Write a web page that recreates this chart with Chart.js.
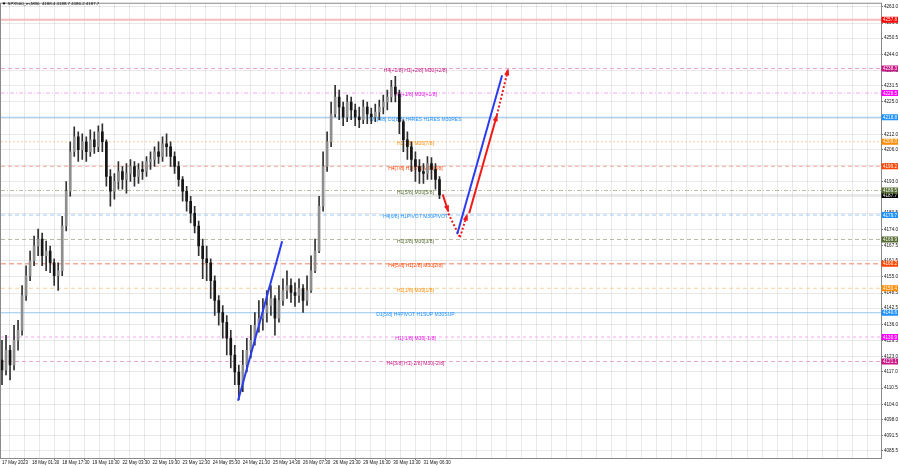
<!DOCTYPE html>
<html><head><meta charset="utf-8">
<script src="https://cdn.jsdelivr.net/npm/chart.js@4"></script>
<style>html,body{margin:0;padding:0;background:#fff;overflow:hidden}</style>
</head><body>
<canvas id="c" width="900" height="468" style="display:block;width:900px;height:468px"></canvas>
<script>
// ---------- data ----------
const chartTitle = 'SPX500_m,M30  4188.4 4188.7 4186.2 4187.7';
const timeLabels = ['17 May 2023','18 May 01:30','18 May 17:30','19 May 10:30','22 May 03:30','22 May 19:30','23 May 12:30','24 May 05:30','24 May 21:30','25 May 14:30','26 May 07:30','26 May 23:30','29 May 16:30','30 May 13:30','31 May 06:30'];
const priceTicks = [4263.0,4256.5,4250.5,4244.0,4237.5,4231.5,4225.0,4218.5,4212.0,4206.0,4199.5,4193.0,4187.0,4180.5,4174.0,4167.5,4161.5,4155.0,4148.5,4142.5,4136.0,4129.5,4123.0,4117.0,4110.5,4104.0,4098.0,4091.5,4085.5];

const opens = [4121.7,4117.7,4125.6,4119.7,4129.6,4133.6,4147.5,4155.4,4161.4,4167.3,
4170.1,4163.4,4165.3,4160.6,4155.4,4157.4,4175.3,4189.2,4205.0,4211.0,
4205.8,4209.0,4205.0,4209.8,4207.0,4213.0,4209.0,4195.1,4189.2,4193.1,
4197.1,4193.9,4196.3,4199.1,4195.1,4197.9,4197.1,4201.1,4201.9,4205.0,
4203.1,4208.2,4207.0,4203.1,4199.1,4193.9,4189.2,4185.2,4180.4,4175.3,
4167.3,4162.2,4160.6,4153.4,4145.5,4140.7,4136.8,4130.4,4123.7,4116.9,
4111.8,4119.7,4125.6,4129.6,4135.6,4138.4,4140.7,4143.5,4146.3,4138.4,
4145.5,4149.5,4151.5,4148.7,4147.5,4150.3,4145.5,4149.5,4157.4,4165.3,
4183.2,4199.1,4209.0,4220.1,4226.9,4222.9,4218.9,4224.9,4221.7,4218.9,
4217.8,4222.9,4220.1,4218.9,4220.9,4222.9,4224.9,4226.9,4230.9,4228.1,
4217.0,4209.8,4207.0,4201.9,4199.1,4197.1,4196.3,4200.3,4197.9,4193.9];
const highs = [4129.6,4131.6,4127.6,4135.6,4137.6,4151.5,4159.4,4165.3,4171.3,4174.1,
4172.5,4169.3,4167.3,4162.2,4160.6,4179.2,4193.1,4209.0,4215.0,4213.0,
4212.2,4211.0,4213.8,4213.0,4215.4,4216.2,4209.8,4197.9,4196.3,4201.1,
4199.1,4200.3,4201.9,4201.1,4200.3,4201.1,4203.1,4205.0,4207.0,4209.0,
4211.0,4212.2,4209.0,4205.0,4201.1,4195.1,4191.2,4187.2,4183.2,4177.3,
4170.1,4167.3,4162.2,4155.4,4147.5,4143.5,4139.5,4133.6,4127.6,4119.7,
4125.6,4130.4,4135.6,4140.7,4145.5,4146.3,4149.5,4151.5,4147.5,4151.5,
4154.2,4157.4,4154.2,4152.6,4154.2,4151.9,4155.4,4163.4,4170.1,4187.2,
4205.0,4213.0,4224.9,4231.6,4229.7,4224.9,4227.7,4226.9,4224.1,4222.9,
4225.7,4224.9,4222.5,4224.1,4225.7,4227.7,4229.7,4233.6,4235.2,4229.7,
4217.8,4213.0,4209.0,4205.0,4201.9,4200.3,4203.1,4202.7,4200.3,4195.1];
const lows = [4111.8,4115.7,4113.7,4117.7,4125.6,4131.6,4145.5,4153.4,4159.4,4163.4,
4159.4,4157.4,4156.6,4151.5,4149.5,4155.4,4173.3,4187.2,4203.1,4201.1,
4201.9,4201.1,4203.1,4204.3,4205.0,4205.0,4191.2,4183.2,4186.0,4190.0,
4190.0,4188.4,4193.1,4191.2,4192.3,4193.9,4195.1,4197.9,4199.1,4200.3,
4201.1,4203.1,4199.1,4196.3,4191.2,4185.2,4181.2,4176.5,4172.5,4163.4,
4154.2,4153.4,4146.3,4139.5,4135.6,4130.4,4123.7,4118.5,4111.8,4105.8,
4109.0,4116.9,4122.5,4127.6,4132.8,4133.6,4136.8,4139.5,4131.6,4136.8,
4143.5,4146.3,4144.7,4143.1,4144.7,4140.7,4143.5,4148.7,4156.6,4164.6,
4181.2,4197.1,4207.0,4218.9,4217.8,4215.4,4217.0,4217.8,4215.4,4214.6,
4216.2,4216.2,4216.2,4217.0,4217.8,4220.1,4221.7,4224.9,4224.9,4212.2,
4205.0,4201.9,4197.1,4193.1,4192.3,4192.3,4193.9,4193.9,4190.0,4186.2];
const closes = [4117.7,4125.6,4119.7,4129.6,4133.6,4147.5,4155.4,4161.4,4167.3,4170.1,
4163.4,4165.3,4160.6,4155.4,4157.4,4175.3,4189.2,4205.0,4211.0,4205.8,
4209.0,4205.0,4209.8,4207.0,4213.0,4209.0,4195.1,4189.2,4193.1,4197.1,
4193.9,4196.3,4199.1,4195.1,4197.9,4197.1,4201.1,4201.9,4205.0,4203.1,
4208.2,4207.0,4203.1,4199.1,4193.9,4189.2,4185.2,4180.4,4175.3,4167.3,
4162.2,4160.6,4153.4,4145.5,4140.7,4136.8,4130.4,4123.7,4116.9,4111.8,
4119.7,4125.6,4129.6,4135.6,4138.4,4140.7,4143.5,4146.3,4138.4,4145.5,
4149.5,4151.5,4148.7,4147.5,4150.3,4145.5,4149.5,4157.4,4165.3,4183.2,
4199.1,4209.0,4220.1,4226.9,4222.9,4218.9,4224.9,4221.7,4218.9,4217.8,
4222.9,4220.1,4218.9,4220.9,4222.9,4224.9,4226.9,4230.9,4228.1,4217.0,
4209.8,4207.0,4201.9,4199.1,4197.1,4196.3,4200.3,4197.9,4193.9,4187.7];

const levelValues = [4257.8,4238.3,4228.5,4218.8,4209.0,4199.2,4189.5,4179.7,4169.9,4160.2,4150.4,4140.6,4130.9,4121.1];
const levelTexts = ['','H4[+1/8] H1[+2/8] M30[+2/8]','H1[+1/8] M30[+1/8]','W1[8/8] D1[8/8] H4RES H1RES M30RES','H1[7/8] M30[7/8]','H4[7/8] H1[6/8] M30[6/8]','H1[5/8] M30[5/8]','H4[6/8] H1PIVOT M30PIVOT','H1[3/8] M30[3/8]','H4[5/8] H1[2/8] M30[2/8]','H1[1/8] M30[1/8]','D1[5/8] H4PIVOT H1SUP M30SUP','H1[-1/8] M30[-1/8]','H4[3/8] H1[-2/8] M30[-2/8]'];
const bidPrice = 4187.7;

const blueTrendA = [{x:58.8,y:4105.4},{x:69.8,y:4169.2}];
const blueTrendB = [{x:113.4,y:4172.0},{x:124.6,y:4235.6}];
const redSolidA = [{x:109.8,y:4187.9},{x:111.2,y:4181.1}];
const redDotA = [{x:111.2,y:4180.3},{x:114.1,y:4170.8}];
const redDotB = [{x:114.1,y:4170.8},{x:115.9,y:4179.9}];
const redSolidB = [{x:116.4,y:4180.4},{x:123.3,y:4219.6}];
const redDotC = [{x:123.3,y:4219.6},{x:126.1,y:4238.0}];

// ---------- styles ----------
const FONT = 'Liberation Sans, Arial, sans-serif';
const levelStyles = [
  {line:'#f6bcbc', dash:[], w:2, text:'#ff0000', box:'#ff0000'},
  {line:'#e8a6d2', dash:[4,3], w:1, text:'#c71585', box:'#c71585'},
  {line:'#f3a8f3', dash:[4,2,1,2], w:1, text:'#e810e8', box:'#ff00ff'},
  {line:'#93c6f3', dash:[], w:1, text:'#1e90ff', box:'#1e90ff'},
  {line:'#f7cf9c', dash:[2,2], w:1, text:'#ff8c00', box:'#ff8c00'},
  {line:'#f4ab95', dash:[4,3], w:1, text:'#ff4500', box:'#ff4500'},
  {line:'#b7bca2', dash:[4,2,1,2], w:1, text:'#556b2f', box:'#556b2f'},
  {line:'#9ccaf3', dash:[4,3], w:1, text:'#1e90ff', box:'#1e90ff'},
  {line:'#b9bca4', dash:[4,3], w:1, text:'#556b2f', box:'#556b2f'},
  {line:'#f4ab95', dash:[5,3], w:1.5, text:'#ff4500', box:'#ff4500'},
  {line:'#f7cf9c', dash:[4,3], w:1, text:'#ff8c00', box:'#ff8c00'},
  {line:'#93c6f3', dash:[], w:1, text:'#1e90ff', box:'#1e90ff'},
  {line:'#f3a8f3', dash:[3,3], w:1, text:'#e810e8', box:'#ff00ff'},
  {line:'#e8a6d2', dash:[4,3], w:1, text:'#c71585', box:'#c71585'}
];
const X_MIN = -0.25, X_MAX = 219.0, Y_MIN = 4082.5, Y_MAX = 4264.2;
const LEVEL_TEXT_X = 103;

// ---------- build ----------
const idx = closes.map((_, i) => i);
const wickData = idx.map(i => ({x:i, y:[lows[i], highs[i]]}));
const bodyData = idx.map(i => ({x:i, y:[opens[i], closes[i]]}));
const bodyFill = idx.map(i => closes[i] >= opens[i] ? '#8e8e8e' : '#151515');

const datasets = [];
levelValues.forEach((v, k) => {
  const s = levelStyles[k];
  datasets.push({type:'line', data:[{x:X_MIN,y:v},{x:X_MAX,y:v}], borderColor:s.line, borderWidth:s.w, borderDash:s.dash, pointRadius:0, order:10});
});
datasets.push({type:'line', data:[{x:X_MIN,y:bidPrice},{x:X_MAX,y:bidPrice}], borderColor:'#d2d2d2', borderWidth:1, pointRadius:0, order:10});
datasets.push({type:'bar', data:wickData, backgroundColor:'#303030', barThickness:1, grouped:false, order:3});
datasets.push({type:'bar', data:bodyData, backgroundColor:bodyFill, borderWidth:0, barThickness:2, grouped:false, order:2});
const trend = (data, color, dotted, arrow) => ({type:'line', data, borderColor:color, borderWidth:2, borderDash: dotted ? [2,2] : [], pointRadius:0, order:0, arrow});
datasets.push(trend(blueTrendA, '#2b3cf0', false, false));
datasets.push(trend(blueTrendB, '#2b3cf0', false, false));
datasets.push(trend(redSolidA, '#f01818', false, true));
datasets.push(trend(redDotA, '#f01818', true, false));
datasets.push(trend(redDotB, '#f01818', true, true));
datasets.push(trend(redSolidB, '#f01818', false, true));
datasets.push(trend(redDotC, '#f01818', true, true));

const gridX = [];
for (let m = 0; m * 3.75 <= X_MAX; m++) gridX.push(m * 3.75);

const levelTextPlugin = {
  id:'levelText',
  afterDatasetDraw(chart, args) {
    if (args.index !== 0) return;
    const ctx = chart.ctx, xs = chart.scales.x, ys = chart.scales.y;
    ctx.save();
    ctx.font = '5px ' + FONT;
    ctx.textAlign = 'center';
    ctx.textBaseline = 'middle';
    levelValues.forEach((v, k) => {
      if (!levelTexts[k]) return;
      ctx.fillStyle = levelStyles[k].text;
      ctx.fillText(levelTexts[k], xs.getPixelForValue(LEVEL_TEXT_X), ys.getPixelForValue(v) + 2);
    });
    ctx.restore();
  }
};
const arrowPlugin = {
  id:'arrows',
  afterDatasetsDraw(chart) {
    const ctx = chart.ctx;
    chart.data.datasets.forEach((ds, i) => {
      if (!ds.arrow) return;
      const pts = chart.getDatasetMeta(i).data;
      const a = pts[0], b = pts[pts.length - 1];
      const ang = Math.atan2(b.y - a.y, b.x - a.x);
      const L = 6, W = 2.6;
      ctx.save();
      ctx.translate(b.x, b.y); ctx.rotate(ang);
      ctx.beginPath(); ctx.moveTo(1, 0); ctx.lineTo(-L, -W); ctx.lineTo(-L, W); ctx.closePath();
      ctx.fillStyle = ds.borderColor; ctx.fill();
      ctx.restore();
    });
  }
};
const overlayPlugin = {
  id:'overlay',
  afterDraw(chart) {
    const ctx = chart.ctx, ca = chart.chartArea, ys = chart.scales.y;
    ctx.save();
    ctx.strokeStyle = '#8a8a8a'; ctx.lineWidth = 1;
    ctx.strokeRect(ca.left - 0.5, ca.top - 0.5, ca.right - ca.left + 1, ca.bottom - ca.top + 1);
    ctx.font = '4.6px ' + FONT; ctx.textBaseline = 'middle'; ctx.textAlign = 'left';
    const box = (v, color) => {
      const y = ys.getPixelForValue(v);
      ctx.fillStyle = color; ctx.fillRect(ca.right + 0.5, y - 3, 16.5, 6);
      ctx.fillStyle = '#ffffff'; ctx.fillText(v.toFixed(1), ca.right + 2, y + 0.3);
    };
    box(bidPrice, '#000000');
    levelValues.forEach((v, k) => box(v, levelStyles[k].box));
    ctx.fillStyle = '#000';
    ctx.beginPath(); ctx.moveTo(2.5, 2.5); ctx.lineTo(5.5, 2.5); ctx.lineTo(4, 5); ctx.closePath(); ctx.fill();
    ctx.font = '4.4px ' + FONT; ctx.textBaseline = 'middle';
    ctx.fillText(chartTitle, 7.5, 4);
    ctx.restore();
  }
};

new Chart(document.getElementById('c'), {
  type:'bar',
  data:{datasets},
  options:{
    responsive:false, animation:false, devicePixelRatio:1,
    layout:{padding:{left:1, top:1, right:0, bottom:0}},
    plugins:{legend:{display:false}, tooltip:{enabled:false}, title:{display:false}},
    scales:{
      x:{type:'linear', min:X_MIN, max:X_MAX, offset:false,
        afterBuildTicks: s => { s.ticks = gridX.map(v => ({value:v})); },
        afterFit: s => { s.height = 10; },
        ticks:{autoSkip:false, maxRotation:0, minRotation:0, align:'start', padding:0, color:'#111', font:{family:FONT, size:4.5},
          callback:(v, i) => (i % 2 === 0 && timeLabels[i / 2]) ? timeLabels[i / 2] : ''},
        grid:{color:'rgba(0,0,0,0.085)', tickLength:2, tickColor: c => (c.index % 2 === 0 && c.index / 2 < timeLabels.length) ? '#777' : 'rgba(0,0,0,0)'},
        border:{display:true, color:'#8a8a8a'}
      },
      y:{position:'right', min:Y_MIN, max:Y_MAX,
        afterBuildTicks: s => { s.ticks = priceTicks.map(v => ({value:v})); },
        afterFit: s => { s.width = 19; },
        ticks:{autoSkip:false, padding:1, color:'#111', font:{family:FONT, size:4.6}, callback: v => v.toFixed(1)},
        grid:{color:'rgba(0,0,0,0.085)', tickLength:2, tickColor:'#777'},
        border:{display:true, color:'#8a8a8a'}
      }
    }
  },
  plugins:[levelTextPlugin, arrowPlugin, overlayPlugin]
});
</script>
</body></html>
